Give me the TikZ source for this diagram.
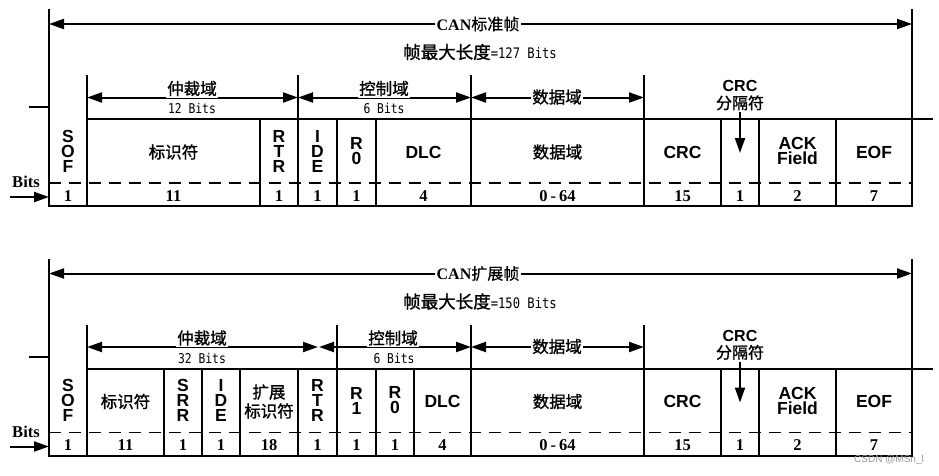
\documentclass[tikz,border=0pt]{standalone}
\usepackage{fontspec}
\setmainfont{Liberation Serif}
\setsansfont{Liberation Sans}
\setmonofont{DejaVu Sans Mono}
\newfontfamily\monon{DejaVu Sans Mono}[FakeStretch=0.84]
\newfontfamily\cjk{Noto Sans CJK SC}[FakeBold=1.2]
\newfontfamily\cjkt{Noto Sans CJK SC}[FakeBold=0.6]
\usetikzlibrary{arrows.meta}
\tikzset{
  ln/.style={line width=2pt, line cap=rect},
  dashln/.style={line width=1.6pt, dash pattern=on 12pt off 8pt},
  dim/.style={line width=2pt, {Triangle[length=15pt,width=10pt]}-{Triangle[length=15pt,width=10pt]}},
  down/.style={line width=2pt, -{Triangle[length=15pt,width=10pt]}},
  cell/.style={font=\sffamily\bfseries\fontsize{17.5}{15}\selectfont, align=center, inner sep=0pt},
  ccell/.style={font=\cjk\fontsize{16.5}{19}\selectfont, align=center, inner sep=0pt},
  num/.style={font=\rmfamily\bfseries\fontsize{16.5}{17}\selectfont, inner sep=0pt},
  lab/.style={fill=white, inner sep=1.5pt, font=\cjk\fontsize{16.5}{17}\selectfont},
  sub/.style={font=\monon\fontsize{13.5}{14}\selectfont, inner sep=0pt},
  ttl/.style={fill=white, inner sep=2pt, font=\fontsize{16}{17}\selectfont},
  crcd/.style={align=center, inner sep=0pt, font=\fontsize{16}{17}\selectfont},
  maxl/.style={font=\fontsize{17.5}{18}\selectfont},
}
\begin{document}
\begin{tikzpicture}[x=1pt,y=-1pt]
\useasboundingbox (0,0) rectangle (939,475);
% ================= standard frame =================
\draw[ln] (49,10) -- (49,206) -- (912,206) -- (912,10);
\draw[ln] (30,107) -- (49,107);
\draw[ln] (87,119) -- (932,119);
\foreach \x in {87,298,471,644} \draw[ln] (\x,76) -- (\x,206);
\foreach \x in {260,337,376,721,759,836} \draw[ln] (\x,119) -- (\x,206);
\draw[dashln] (49,183) -- (912,183);
\coordinate (sL) at (49,24); \coordinate (sR) at (912,24);
\draw[dim] (sL) -- (sR);
\node[ttl] (sT) at (478,24) {\textbf{CAN}{\cjkt 标准帧}};
\node[maxl] (sM) at (480,52) {{\cjk 帧最大长度}{\monon\fontsize{14.5}{15}\selectfont =127 Bits}};
\coordinate (sA1) at (87,97.5); \coordinate (sA2) at (298,97.5);
\coordinate (sA3) at (471,97.5); \coordinate (sA4) at (644,97.5);
\draw[dim] (sA1) -- (sA2); \draw[dim] (sA2) -- (sA3); \draw[dim] (sA3) -- (sA4);
\node[lab] (sArb) at (192,88.5) {仲裁域};
\node[sub] (sArbB) at (192,108.5) {12 Bits};
\node[lab] (sCtl) at (384,88.5) {控制域};
\node[sub] (sCtlB) at (384,108.5) {6 Bits};
\node[lab] (sDat) at (557,97) {数据域};
\node[crcd] (sCrcD) at (740,95.5) {{\sffamily\bfseries CRC}\\{\cjk 分隔符}};
\coordinate (sCrcTip) at (740,153);
\draw[down] (740,112) -- (sCrcTip);
\node[cell] (sSOF) at (68,151) {S\\O\\F};
\node[ccell] (sID) at (173.5,152) {标识符};
\node[cell] (sRTR) at (279,151) {R\\T\\R};
\node[cell] (sIDE) at (317.5,151) {I\\D\\E};
\node[cell] (sR0) at (356.5,151) {R\\0};
\node[cell] (sDLC) at (423.5,152) {DLC};
\node[ccell] (sData) at (557.5,152) {数据域};
\node[cell] (sCRC) at (682.5,152) {CRC};
\node[cell] (sACK) at (797.5,151) {ACK\\Field};
\node[cell] (sEOF) at (874,152) {EOF};
\node[num] (sBits) at (26,182) {Bits};
\coordinate (sBa) at (10,197); \coordinate (sBb) at (49,197);
\draw[down] (sBa) -- (sBb);
\foreach \x/\t [count=\i] in {68/1,173.5/11,279/1,317.5/1,356.5/1,423.5/4,557.5/{0\hspace{3pt}-\hspace{3pt}64},682.5/15,740/1,797.5/2,874/7}
  \node[num] (sN\i) at (\x,196) {\t};
% ================= extended frame =================
\begin{scope}[yshift=-249.5pt]
\draw[ln] (49,10) -- (49,206) -- (912,206) -- (912,10);
\draw[ln] (30,107) -- (49,107);
\draw[ln] (87,119) -- (932,119);
\foreach \x in {87,337,471,644} \draw[ln] (\x,76) -- (\x,206);
\foreach \x in {164,202,240,298,376,414,721,759,836} \draw[ln] (\x,119) -- (\x,206);
\draw[dashln] (49,183) -- (912,183);
\coordinate (eL) at (49,24); \coordinate (eR) at (912,24);
\draw[dim] (eL) -- (eR);
\node[ttl] (eT) at (478,24) {\textbf{CAN}{\cjkt 扩展帧}};
\node[maxl] (eM) at (480,52) {{\cjk 帧最大长度}{\monon\fontsize{14.5}{15}\selectfont =150 Bits}};
\coordinate (eA1) at (87,97.5); \coordinate (eA2) at (318,97.5);
\coordinate (eA2b) at (319,97.5);
\coordinate (eA3) at (471,97.5); \coordinate (eA4) at (644,97.5);
\draw[dim] (eA1) -- (eA2); \draw[dim] (eA2b) -- (eA3); \draw[dim] (eA3) -- (eA4);
\node[lab] (eArb) at (202,88.5) {仲裁域};
\node[sub] (eArbB) at (202,108.5) {32 Bits};
\node[lab] (eCtl) at (393,88.5) {控制域};
\node[sub] (eCtlB) at (394,108.5) {6 Bits};
\node[lab] (eDat) at (557,97) {数据域};
\node[crcd] (eCrcD) at (740,95.5) {{\sffamily\bfseries CRC}\\{\cjk 分隔符}};
\coordinate (eCrcTip) at (740,153);
\draw[down] (740,112) -- (eCrcTip);
\node[cell] (eSOF) at (68,151) {S\\O\\F};
\node[ccell] (eID) at (125.5,152) {标识符};
\node[cell] (eSRR) at (183,151) {S\\R\\R};
\node[cell] (eIDE) at (221,151) {I\\D\\E};
\node[ccell] (eXID) at (269,152) {扩展\\标识符};
\node[cell] (eRTR) at (317.5,151) {R\\T\\R};
\node[cell] (eR1) at (356.5,151) {R\\1};
\node[cell] (eR0) at (395,151) {R\\0};
\node[cell] (eDLC) at (442.5,152) {DLC};
\node[ccell] (eData) at (557.5,152) {数据域};
\node[cell] (eCRC) at (682.5,152) {CRC};
\node[cell] (eACK) at (797.5,151) {ACK\\Field};
\node[cell] (eEOF) at (874,152) {EOF};
\node[num] (eBits) at (26,182) {Bits};
\coordinate (eBa) at (10,197); \coordinate (eBb) at (49,197);
\draw[down] (eBa) -- (eBb);
\foreach \x/\t [count=\i] in {68/1,125.5/11,183/1,221/1,269/18,317.5/1,356.5/1,395/1,442.5/4,557.5/{0\hspace{3pt}-\hspace{3pt}64},682.5/15,740/1,797.5/2,874/7}
  \node[num] (eN\i) at (\x,196) {\t};
\end{scope}
\node[text=black!40, font=\sffamily\fontsize{10}{10}\selectfont, inner sep=0pt] (wm) at (889,460) {CSDN @MSn\_l};
\end{tikzpicture}
\end{document}
